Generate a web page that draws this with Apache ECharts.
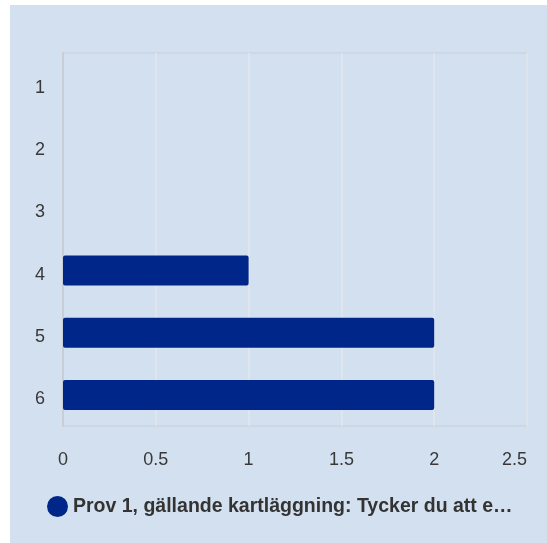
<!DOCTYPE html>
<html>
<head>
<meta charset="utf-8">
<script src="https://cdn.jsdelivr.net/npm/echarts@6/dist/echarts.min.js"></script>
<style>
html,body{margin:0;padding:0;background:#ffffff;width:547px;height:543px;overflow:hidden;}
#bg{position:absolute;left:10px;top:5px;right:0;bottom:0;background:#d3e0ef;}
#chart{position:absolute;left:0;top:0;width:547px;height:543px;}
</style>
</head>
<body>
<div id="bg"></div>
<div id="chart"></div>
<script>
const categories = ['1', '2', '3', '4', '5', '6'];
const values = [0, 0, 0, 1, 2, 2];
const seriesName = 'Prov 1, gällande kartläggning: Tycker du att e…';
const xTicks = { min: 0, max: 2.5, interval: 0.5 };

const chart = echarts.init(document.getElementById('chart'), null, { renderer: 'canvas' });
const font = '"Liberation Sans", Arial, sans-serif';
chart.setOption({
  animation: false,
  backgroundColor: 'transparent',
  textStyle: { fontFamily: font },
  grid: { left: 63, right: 20, top: 53, bottom: 117, show: true, borderColor: '#c9ced6', borderWidth: 1, containLabel: false },
  legend: {
    left: 47, top: 496, padding: 0,
    itemWidth: 21, itemHeight: 21, itemGap: 10,
    icon: 'circle',
    itemStyle: { borderWidth: 0 },
    textStyle: { fontSize: 19.5, fontWeight: 'bold', color: '#333333', fontFamily: font },
    data: [seriesName]
  },
  xAxis: {
    type: 'value',
    min: xTicks.min, max: xTicks.max, interval: xTicks.interval,
    axisLine: { show: false },
    axisTick: { show: false },
    axisLabel: { fontSize: 18, color: '#383838', margin: 25, fontFamily: font, alignMaxLabel: 'right',
      formatter: v => String(v) },
    splitLine: { show: true, lineStyle: { color: '#e2e7ee', width: 1.5 } }
  },
  yAxis: {
    type: 'category',
    data: categories,
    inverse: true,
    axisLine: { show: true, lineStyle: { color: '#c9ced6', width: 2 } },
    axisTick: { show: false },
    axisLabel: { fontSize: 18, color: '#383838', margin: 18, fontFamily: font,
      formatter: v => '{a|' + v + '}',
      rich: { a: { fontSize: 18, color: '#383838', fontFamily: font, padding: [8, 0, 0, 0] } } },
    splitLine: { show: false }
  },
  series: [{
    name: seriesName,
    type: 'bar',
    data: values,
    barWidth: 30,
    itemStyle: { color: '#00268a', borderWidth: 0, borderRadius: 2 }
  }]
});
</script>
</body>
</html>
